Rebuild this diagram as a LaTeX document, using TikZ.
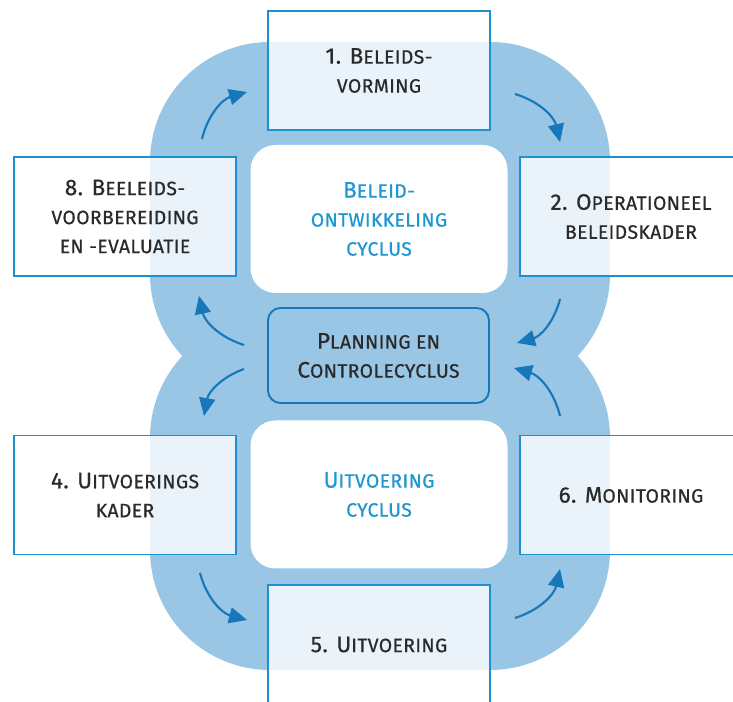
\documentclass[tikz,border=0pt]{standalone}
\usepackage{fontspec}
\setmainfont{Fira Sans}[FakeBold=0.6]
\usetikzlibrary{arrows.meta}

\definecolor{cycleblue}{HTML}{98C6E4}
\definecolor{frameblue}{HTML}{1E8FCF}
\definecolor{arrowblue}{HTML}{1677BA}
\definecolor{titleblue}{HTML}{1E96D2}
\definecolor{textgrey}{HTML}{2A2A2A}

\newcommand{\Kap}[1]{{\fontsize{12.8}{16.5}\selectfont #1}} % bigger first letter

\begin{document}
\begin{tikzpicture}[
  stap/.style={draw=frameblue, line width=1.1pt, fill=white, fill opacity=0.8, text opacity=1,
    minimum width=4.44cm, minimum height=2.38cm, align=center, text=textgrey,
    font=\fontsize{11}{16.5}\selectfont\addfontfeature{LetterSpace=2}},
  kern/.style={fill=white, rounded corners=0.5cm, minimum width=5.14cm, minimum height=2.96cm,
    align=center, text=titleblue, font=\fontsize{11}{16.5}\selectfont\addfontfeature{LetterSpace=2}},
  pijl/.style={arrowblue, line width=1.2pt, -{Triangle[length=0.36cm,width=0.32cm]}}
]

\clip (0,0) rectangle (14.66,-14.04); % Page

\fill[cycleblue, rounded corners=2.4cm] (3.0,-0.84) rectangle (12.2,-7.88); % Upper loop
\fill[cycleblue, rounded corners=2.4cm] (3.0,-6.36) rectangle (12.2,-13.4); % Lower loop

\node[kern] (beleid) at (7.58,-4.38) {\Kap{B}ELEID-\\ONTWIKKELING\\CYCLUS};
\node[kern] (uitvoer) at (7.58,-9.89) {\Kap{U}ITVOERING\\CYCLUS};

\node[draw=arrowblue, line width=1.1pt, rounded corners=0.25cm, minimum width=4.42cm, minimum height=1.9cm,
  align=center, text=textgrey, font=\fontsize{11}{16.5}\selectfont\addfontfeature{LetterSpace=2}]
  (plan) at (7.57,-7.11) {\Kap{P}LANNING EN\\\Kap{C}ONTROLECYCLUS};

\node[stap] (b1) at (7.58,-1.41) {\Kap{1. B}ELEIDS-\\VORMING};
\node[stap] (b2) at (12.62,-4.33) {\Kap{2. O}PERATIONEEL\\BELEIDSKADER};
\node[stap] (b8) at (2.5,-4.33) {\Kap{8. B}EELEIDS-\\VOORBEREIDING\\EN -EVALUATIE};
\node[stap] (b4) at (2.5,-9.9) {\Kap{4. U}ITVOERINGS\\KADER};
\node[stap] (b6) at (12.62,-9.9) {\Kap{6. M}ONITORING};
\node[stap] (b5) at (7.58,-12.89) {\Kap{5. U}ITVOERING};

% upper cycle
\draw[pijl] ([shift={(-0.70,0.34)}]b8.north east) to[bend left=30] ([shift={(-0.40,-0.43)}]b1.west);
\draw[pijl] ([shift={(0.48,-0.47)}]b1.east) to[bend left=30] ([shift={(0.82,0.28)}]b2.north west);
\draw[pijl] ([shift={(0.82,-0.44)}]b2.south west) to[bend left=30] ([shift={(0.54,0.25)}]plan.east);
\draw[pijl] ([shift={(-0.46,0.21)}]plan.west) to[bend left=30] ([shift={(-0.76,-0.38)}]b8.south east);
% lower cycle
\draw[pijl] ([shift={(-0.46,-0.27)}]plan.west) to[bend right=30] ([shift={(-0.66,0.37)}]b4.north east);
\draw[pijl] ([shift={(-0.74,-0.35)}]b4.south east) to[bend right=30] ([shift={(-0.40,0.49)}]b5.west);
\draw[pijl] ([shift={(0.48,0.53)}]b5.east) to[bend right=30] ([shift={(0.82,-0.27)}]b6.south west);
\draw[pijl] ([shift={(0.82,0.37)}]b6.north west) to[bend right=30] ([shift={(0.48,-0.25)}]plan.east);

\end{tikzpicture}
\end{document}
